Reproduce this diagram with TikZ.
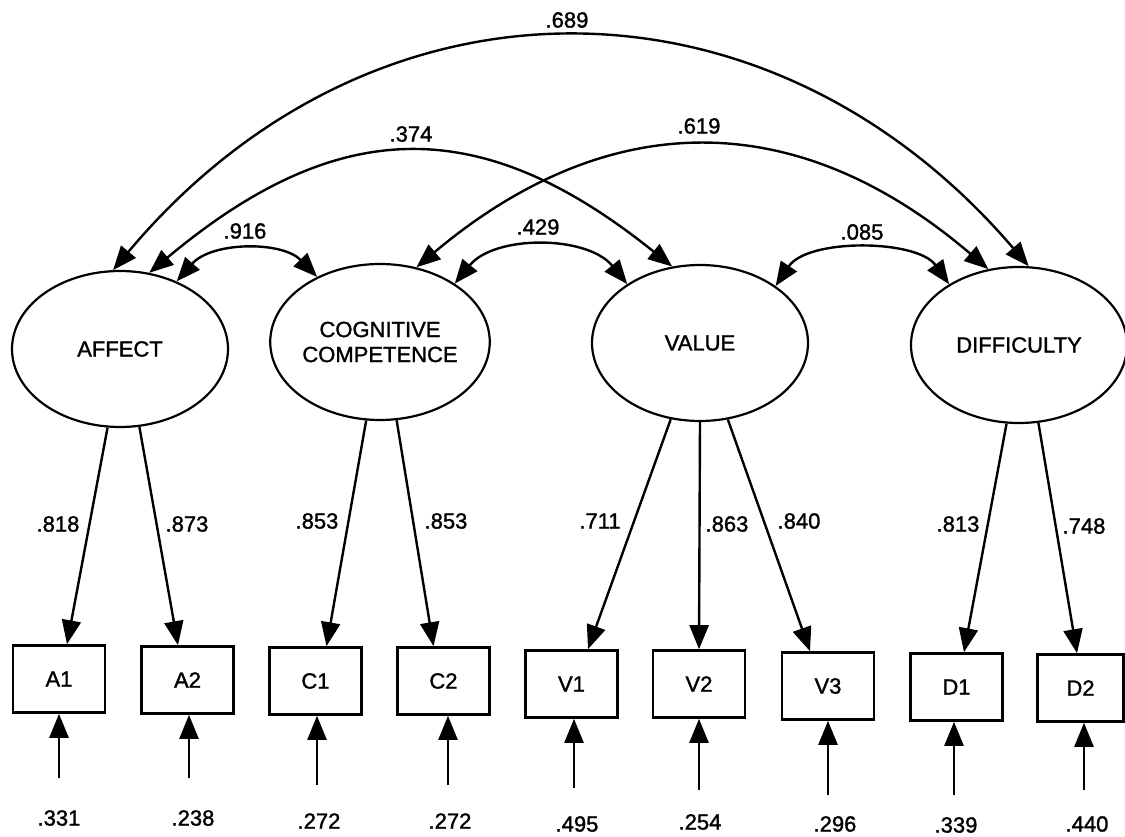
\documentclass[tikz,border=0pt]{standalone}
\usepackage{fontspec}
\setmainfont{Liberation Sans}[RawFeature={embolden=1.4}]
\usetikzlibrary{shapes.geometric,arrows.meta}

\tikzset{
  >={Triangle[length=24pt,width=19pt]},
  txt/.style={font=\fontsize{22}{25}\selectfont},
  lbl/.style={txt, inner sep=0pt},
  latent/.style={ellipse, draw, line width=2.2pt, minimum width=216pt, minimum height=156pt,
                 inner sep=0pt, align=center, txt},
  indicator/.style={rectangle, draw, line width=2.6pt, minimum width=92pt, minimum height=67pt,
                    inner sep=0pt, txt},
  loading/.style={->, line width=2.4pt},
  covar/.style={<->, line width=2.4pt},
  err/.style={->, line width=2.4pt}
}

\begin{document}
\begin{tikzpicture}[x=1pt, y=-1pt]
  \path[use as bounding box, fill=white] (0,0) rectangle (1125,837);

  % latent factors
  \node[latent] (aff)  at (120,349)  {AFFECT};
  \node[latent] (cog)  at (380,342)  {COGNITIVE\\COMPETENCE};
  \node[latent] (val)  at (700,343)  {VALUE};
  \node[latent] (dif)  at (1019,345) {DIFFICULTY};

  % observed indicators
  \node[indicator] (A1) at (59,679)    {A1};
  \node[indicator] (A2) at (187.5,680) {A2};
  \node[indicator] (C1) at (315.5,681) {C1};
  \node[indicator] (C2) at (443.5,681) {C2};
  \node[indicator] (V1) at (571.5,684) {V1};
  \node[indicator] (V2) at (699,684)   {V2};
  \node[indicator] (V3) at (828,686)   {V3};
  \node[indicator] (D1) at (956.5,687) {D1};
  \node[indicator, minimum width=86pt] (D2) at (1080.5,688) {D2};

  % factor loadings
  \draw[loading] (aff.261)   -- ([xshift=8pt]A1.north);
  \draw[loading] (aff.-76)   -- ([xshift=-9.5pt]A2.north);
  \draw[loading] (cog.260.5) -- ([xshift=11pt]C1.north);
  \draw[loading] (cog.-78.3) -- ([xshift=-10pt]C2.north);
  \draw[loading] (val.-111.8) -- ([xshift=16.5pt]V1.north);
  \draw[loading] (val.-90)   -- (V2.north);
  \draw[loading] (val.-70.3) -- ([xshift=-18pt]V3.north);
  \draw[loading] (dif.-99.6) -- ([xshift=7.5pt]D1.north);
  \draw[loading] (dif.-76.7) -- ([xshift=-3.5pt]D2.north);

  \node[lbl] (l818) at (58,524)   {.818};
  \node[lbl] (l873) at (187,524)  {.873};
  \node[lbl] (l853a) at (317,521) {.853};
  \node[lbl] (l853b) at (446,521) {.853};
  \node[lbl] (l711) at (600,521)  {.711};
  \node[lbl] (l863) at (727,524)  {.863};
  \node[lbl] (l840) at (799,521)  {.840};
  \node[lbl] (l813) at (958,524)  {.813};
  \node[lbl] (l748) at (1084,526) {.748};

  % factor covariances
  \draw[covar] (aff.95)   .. controls +(260,-310) and +(-260,-304) .. (dif.83.4);
  \draw[covar] (aff.69.6) .. controls +(190,-159) and +(-190,-153) .. (val.110.4);
  \draw[covar] (cog.64.6) .. controls +(192,-161) and +(-192,-164) .. (dif.112.6);
  \draw[covar] (aff.50.5) .. controls +(35,-40)   and +(-35,-36)   .. (cog.134.1);
  \draw[covar] (cog.38.2) .. controls +(40,-49)   and +(-40,-49)   .. (val.141);
  \draw[covar] (val.37.5) .. controls +(32,-48)   and +(-32,-45)   .. (dif.139.4);

  \node[lbl] (c689) at (567,20)  {.689};
  \node[lbl] (c374) at (411,134) {.374};
  \node[lbl] (c619) at (699,126) {.619};
  \node[lbl] (c916) at (245,231) {.916};
  \node[lbl] (c429) at (538,227) {.429};
  \node[lbl] (c085) at (862,232) {.085};

  % measurement errors
  \coordinate (eA1) at (59,778);
  \coordinate (eA2) at (189,778);
  \coordinate (eC1) at (317,785);
  \coordinate (eC2) at (448,785);
  \coordinate (eV1) at (574,788);
  \coordinate (eV2) at (699,790);
  \coordinate (eV3) at (828,795);
  \coordinate (eD1) at (954,795);
  \coordinate (eD2) at (1084,790);

  \draw[err] (eA1) -- (eA1 |- A1.south);
  \draw[err] (eA2) -- (eA2 |- A2.south);
  \draw[err] (eC1) -- (eC1 |- C1.south);
  \draw[err] (eC2) -- (eC2 |- C2.south);
  \draw[err] (eV1) -- (eV1 |- V1.south);
  \draw[err] (eV2) -- (eV2 |- V2.south);
  \draw[err] (eV3) -- (eV3 |- V3.south);
  \draw[err] (eD1) -- (eD1 |- D1.south);
  \draw[err] (eD2) -- (eD2 |- D2.south);

  \node[lbl] (r331) at (59,818)   {.331};
  \node[lbl] (r238) at (193,818)  {.238};
  \node[lbl] (r272a) at (319,821) {.272};
  \node[lbl] (r272b) at (450,821) {.272};
  \node[lbl] (r495) at (577,824)  {.495};
  \node[lbl] (r254) at (700,822)  {.254};
  \node[lbl] (r296) at (835,824)  {.296};
  \node[lbl] (r339) at (956,825)  {.339};
  \node[lbl] (r440) at (1087,824) {.440};
\end{tikzpicture}
\end{document}
